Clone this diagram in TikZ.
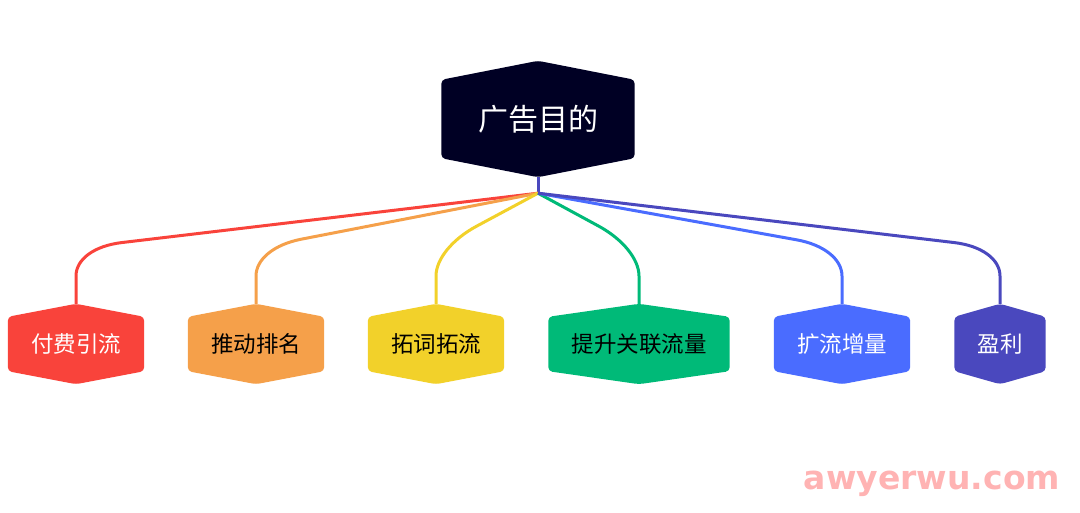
\documentclass[tikz,border=0pt]{standalone}
\usepackage{fontspec}
\newfontfamily\cjk{Noto Sans CJK SC}
\usetikzlibrary{backgrounds,calc}
\definecolor{rootc}{HTML}{000024}
\definecolor{redc}{HTML}{F9433B}
\definecolor{orgc}{HTML}{F5A04A}
\definecolor{yelc}{HTML}{F2D12A}
\definecolor{grnc}{HTML}{00BA78}
\definecolor{bluc}{HTML}{4A6CFF}
\definecolor{purc}{HTML}{4A48BE}
\definecolor{wmark}{HTML}{FFB3B3}
\newcommand\hexfill[3]{\fill[#3, rounded corners=4] (#1.north west) -- ($(#1.north)+(0,-#2)$) -- (#1.north east) -- (#1.south east) -- ($(#1.south)+(0,#2)$) -- (#1.south west) -- cycle;}
\newcommand\linkto[2]{\draw[conn=#2] (j) -- (a#1) .. controls (p#1) and (q#1) .. (b#1) -- (t#1);}
\begin{document}
\begin{tikzpicture}[x=1pt,y=-1pt,
  hexnode/.style={inner sep=0pt, minimum height=54, minimum width=136, font=\cjk\fontsize{22.5}{22.5}\selectfont},
  conn/.style={draw=#1, line width=3, line join=round},
  ]
\useasboundingbox (0,0) rectangle (1080,513);
\node[inner sep=0pt, minimum width=193, minimum height=78, text=white, font=\cjk\fontsize{30}{30}\selectfont] (root) at (538,119) {广告目的};
\node[hexnode, text=white] (c1) at (76,344) {付费引流};
\node[hexnode, text=black] (c2) at (256,344) {推动排名};
\node[hexnode, text=black] (c3) at (436,344) {拓词拓流};
\node[hexnode, text=black, minimum width=181] (c4) at (639,344) {提升关联流量};
\node[hexnode, text=white] (c5) at (842,344) {扩流增量};
\node[hexnode, text=white, minimum width=91] (c6) at (1000,344) {盈利};
\begin{scope}[on background layer]
\hexfill{root}{19}{rootc}
\hexfill{c1}{13}{redc}
\hexfill{c2}{13}{orgc}
\hexfill{c3}{13}{yelc}
\hexfill{c4}{13}{grnc}
\hexfill{c5}{13}{bluc}
\hexfill{c6}{13}{purc}
\end{scope}
\coordinate (rtip) at ($(root.south)+(0,19)$);
\coordinate (j) at ($(rtip)+(0,16)$);
\coordinate (bend) at (0,248);
\foreach \n in {1,...,6} {
  \coordinate (t\n) at ($(c\n.north)+(0,-13)$);
  \coordinate (k\n) at (t\n |- bend);
  \coordinate (a\n) at ($(k\n)!46pt!(j)$);
  \coordinate (b\n) at ($(k\n)+(0,28)$);
  \coordinate (p\n) at ($(a\n)!0.6!(k\n)$);
  \coordinate (q\n) at ($(b\n)!0.6!(k\n)$);
}
\draw[purc, line width=3] (rtip) -- (j);
\linkto{1}{redc}
\linkto{2}{orgc}
\linkto{3}{yelc}
\linkto{4}{grnc}
\linkto{5}{bluc}
\linkto{6}{purc}
\node[text=wmark, font=\fontspec{DejaVu Sans}\bfseries\fontsize{33}{33}\selectfont, inner sep=0pt] (wm) at (932,484) {awyerwu.com};
\end{tikzpicture}
\end{document}
